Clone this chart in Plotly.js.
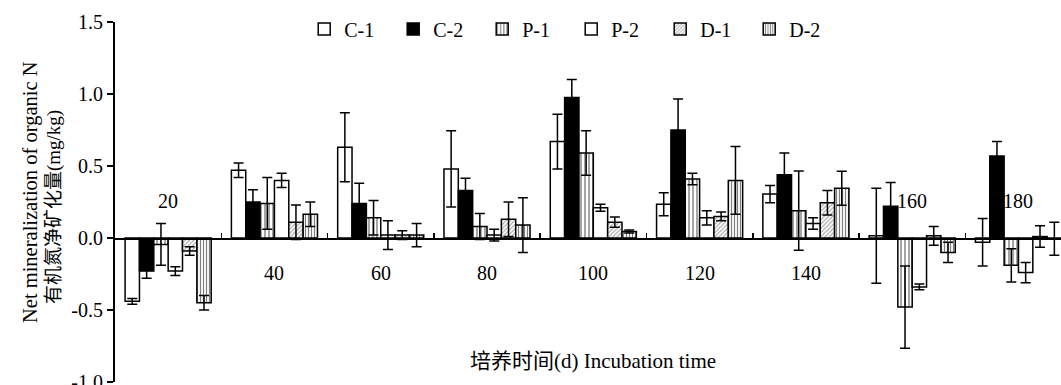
<!DOCTYPE html>
<html>
<head>
<meta charset="utf-8">
<script src="https://cdn.plot.ly/plotly-3.0.1.min.js"></script>
<style>html,body{margin:0;padding:0;background:#fff;}#chart{width:1061px;height:385px;}</style>
</head>
<body>
<div id="chart"></div>
<script>
const categories = ['20','40','60','80','100','120','140','160','180'];
const seriesNames = ['C-1','C-2','P-1','P-2','D-1','D-2'];
const C1 = [-0.44, 0.47, 0.63, 0.48, 0.67, 0.235, 0.305, 0.015, -0.03];
const C1err = [0.02, 0.05, 0.24, 0.265, 0.19, 0.08, 0.06, 0.33, 0.165];
const C2 = [-0.23, 0.25, 0.24, 0.33, 0.975, 0.75, 0.44, 0.22, 0.57];
const C2err = [0.05, 0.085, 0.14, 0.085, 0.125, 0.215, 0.15, 0.165, 0.10];
const P1 = [-0.045, 0.24, 0.14, 0.08, 0.59, 0.41, 0.19, -0.48, -0.19];
const P1err = [0.145, 0.18, 0.12, 0.09, 0.155, 0.04, 0.275, 0.285, 0.115];
const P2 = [-0.23, 0.40, 0.02, 0.02, 0.21, 0.14, 0.10, -0.34, -0.24];
const P2err = [0.03, 0.05, 0.10, 0.04, 0.025, 0.05, 0.04, 0.02, 0.07];
const D1 = [-0.09, 0.11, 0.02, 0.13, 0.11, 0.15, 0.245, 0.015, 0.01];
const D1err = [0.03, 0.12, 0.03, 0.12, 0.035, 0.03, 0.085, 0.065, 0.075];
const D2 = [-0.45, 0.165, 0.02, 0.09, 0.045, 0.40, 0.345, -0.10, -0.005];
const D2err = [0.05, 0.085, 0.08, 0.19, 0.01, 0.235, 0.118, 0.07, 0.115];
const yTicks = [-1.0, -0.5, 0.0, 0.5, 1.0, 1.5];
const yTitleLines = ['Net mineralization of organic N', '有机氮净矿化量(mg/kg)'];
const xTitle = '培养时间(d) Incubation time';

const values = [C1, C2, P1, P2, D1, D2];
const errs = [C1err, C2err, P1err, P2err, D1err, D2err];
const styles = [
  {color:'#ffffff'},
  {color:'#000000'},
  {color:'#ffffff', pattern:{shape:'|', size:4, solidity:0.35, fgcolor:'#000', bgcolor:'#fff', fillmode:'overlay'}},
  {color:'#ffffff'},
  {color:'#ffffff', pattern:{shape:'/', size:3, solidity:0.4, fgcolor:'#555', bgcolor:'#fff', fillmode:'overlay'}},
  {color:'#ffffff', pattern:{shape:'|', size:3, solidity:0.4, fgcolor:'#000', bgcolor:'#fff', fillmode:'overlay'}}
];
const xIdx = categories.map((c,i)=>i);
const FONT = 'Liberation Serif, Times New Roman, Noto Sans CJK SC, serif';

const traces = seriesNames.map((n,k)=>({
  type:'bar', name:n, x:xIdx, y:values[k],
  marker:Object.assign({line:{color:'#000', width:1.5}}, styles[k]),
  error_y:{type:'data', array:errs[k], visible:true, color:'#000', thickness:1.5, width:5},
  hoverinfo:'skip'
}));

const annotations = categories.map((c,i)=>{
  const mean = values.reduce((s,arr)=>s+arr[i],0)/values.length;
  return {x:i, y: mean < 0.1 ? 0.26 : -0.24, xref:'x', yref:'y', text:c, showarrow:false,
          font:{family:FONT, size:20, color:'#000'}};
});

const layout = {
  width:1061, height:385,
  margin:{l:115, r:0, t:22, b:3},
  paper_bgcolor:'#fff', plot_bgcolor:'rgba(0,0,0,0)',
  barmode:'group', bargap:0.19, bargroupgap:0,
  font:{family:FONT, size:20, color:'#000'},
  showlegend:true,
  legend:{orientation:'h', x:0.2, xanchor:'left', y:1.035, yanchor:'top',
          font:{family:FONT, size:20, color:'#000'}, entrywidth:44, itemwidth:30, bgcolor:'rgba(0,0,0,0)'},
  xaxis:{range:[-0.5, 8.4], anchor:'free', position:0.4, showline:true, linecolor:'#000', linewidth:1.5,
         showgrid:false, zeroline:false, tickmode:'array',
         tickvals:categories.slice(0,-1).map((c,i)=>i+0.5), ticktext:categories.slice(0,-1).map(()=>''),
         ticks:'inside', ticklen:5, tickwidth:1.5, tickcolor:'#000',
         title:{text:''}},
  yaxis:{range:[-1,1.5], tickmode:'array', tickvals:yTicks, ticktext:yTicks.map(v=>v.toFixed(1)),
         ticks:'outside', ticklen:6, tickwidth:1.5, tickcolor:'#000', showline:true, linecolor:'#000', linewidth:2,
         showgrid:false, zeroline:false, tickfont:{family:FONT, size:20}, ticklabeloverflow:'allow',
         automargin:false, title:{text:''}},
  annotations: annotations.concat([
    {xref:'paper', yref:'paper', x:0.505, y:0.058, xanchor:'center', yanchor:'middle', text:xTitle, showarrow:false,
     font:{family:FONT, size:21, color:'#000'}},
    {xref:'paper', yref:'paper', x:-0.0887, y:0.528, xanchor:'center', yanchor:'middle', textangle:-90,
     text:yTitleLines[0], showarrow:false, font:{family:FONT, size:20.5, color:'#000'}},
    {xref:'paper', yref:'paper', x:-0.0645, y:0.486, xanchor:'center', yanchor:'middle', textangle:-90,
     text:yTitleLines[1], showarrow:false, font:{family:FONT, size:19, color:'#000'}}
  ])
};
Plotly.newPlot('chart', traces, layout, {staticPlot:true, displayModeBar:false});
</script>
</body>
</html>
